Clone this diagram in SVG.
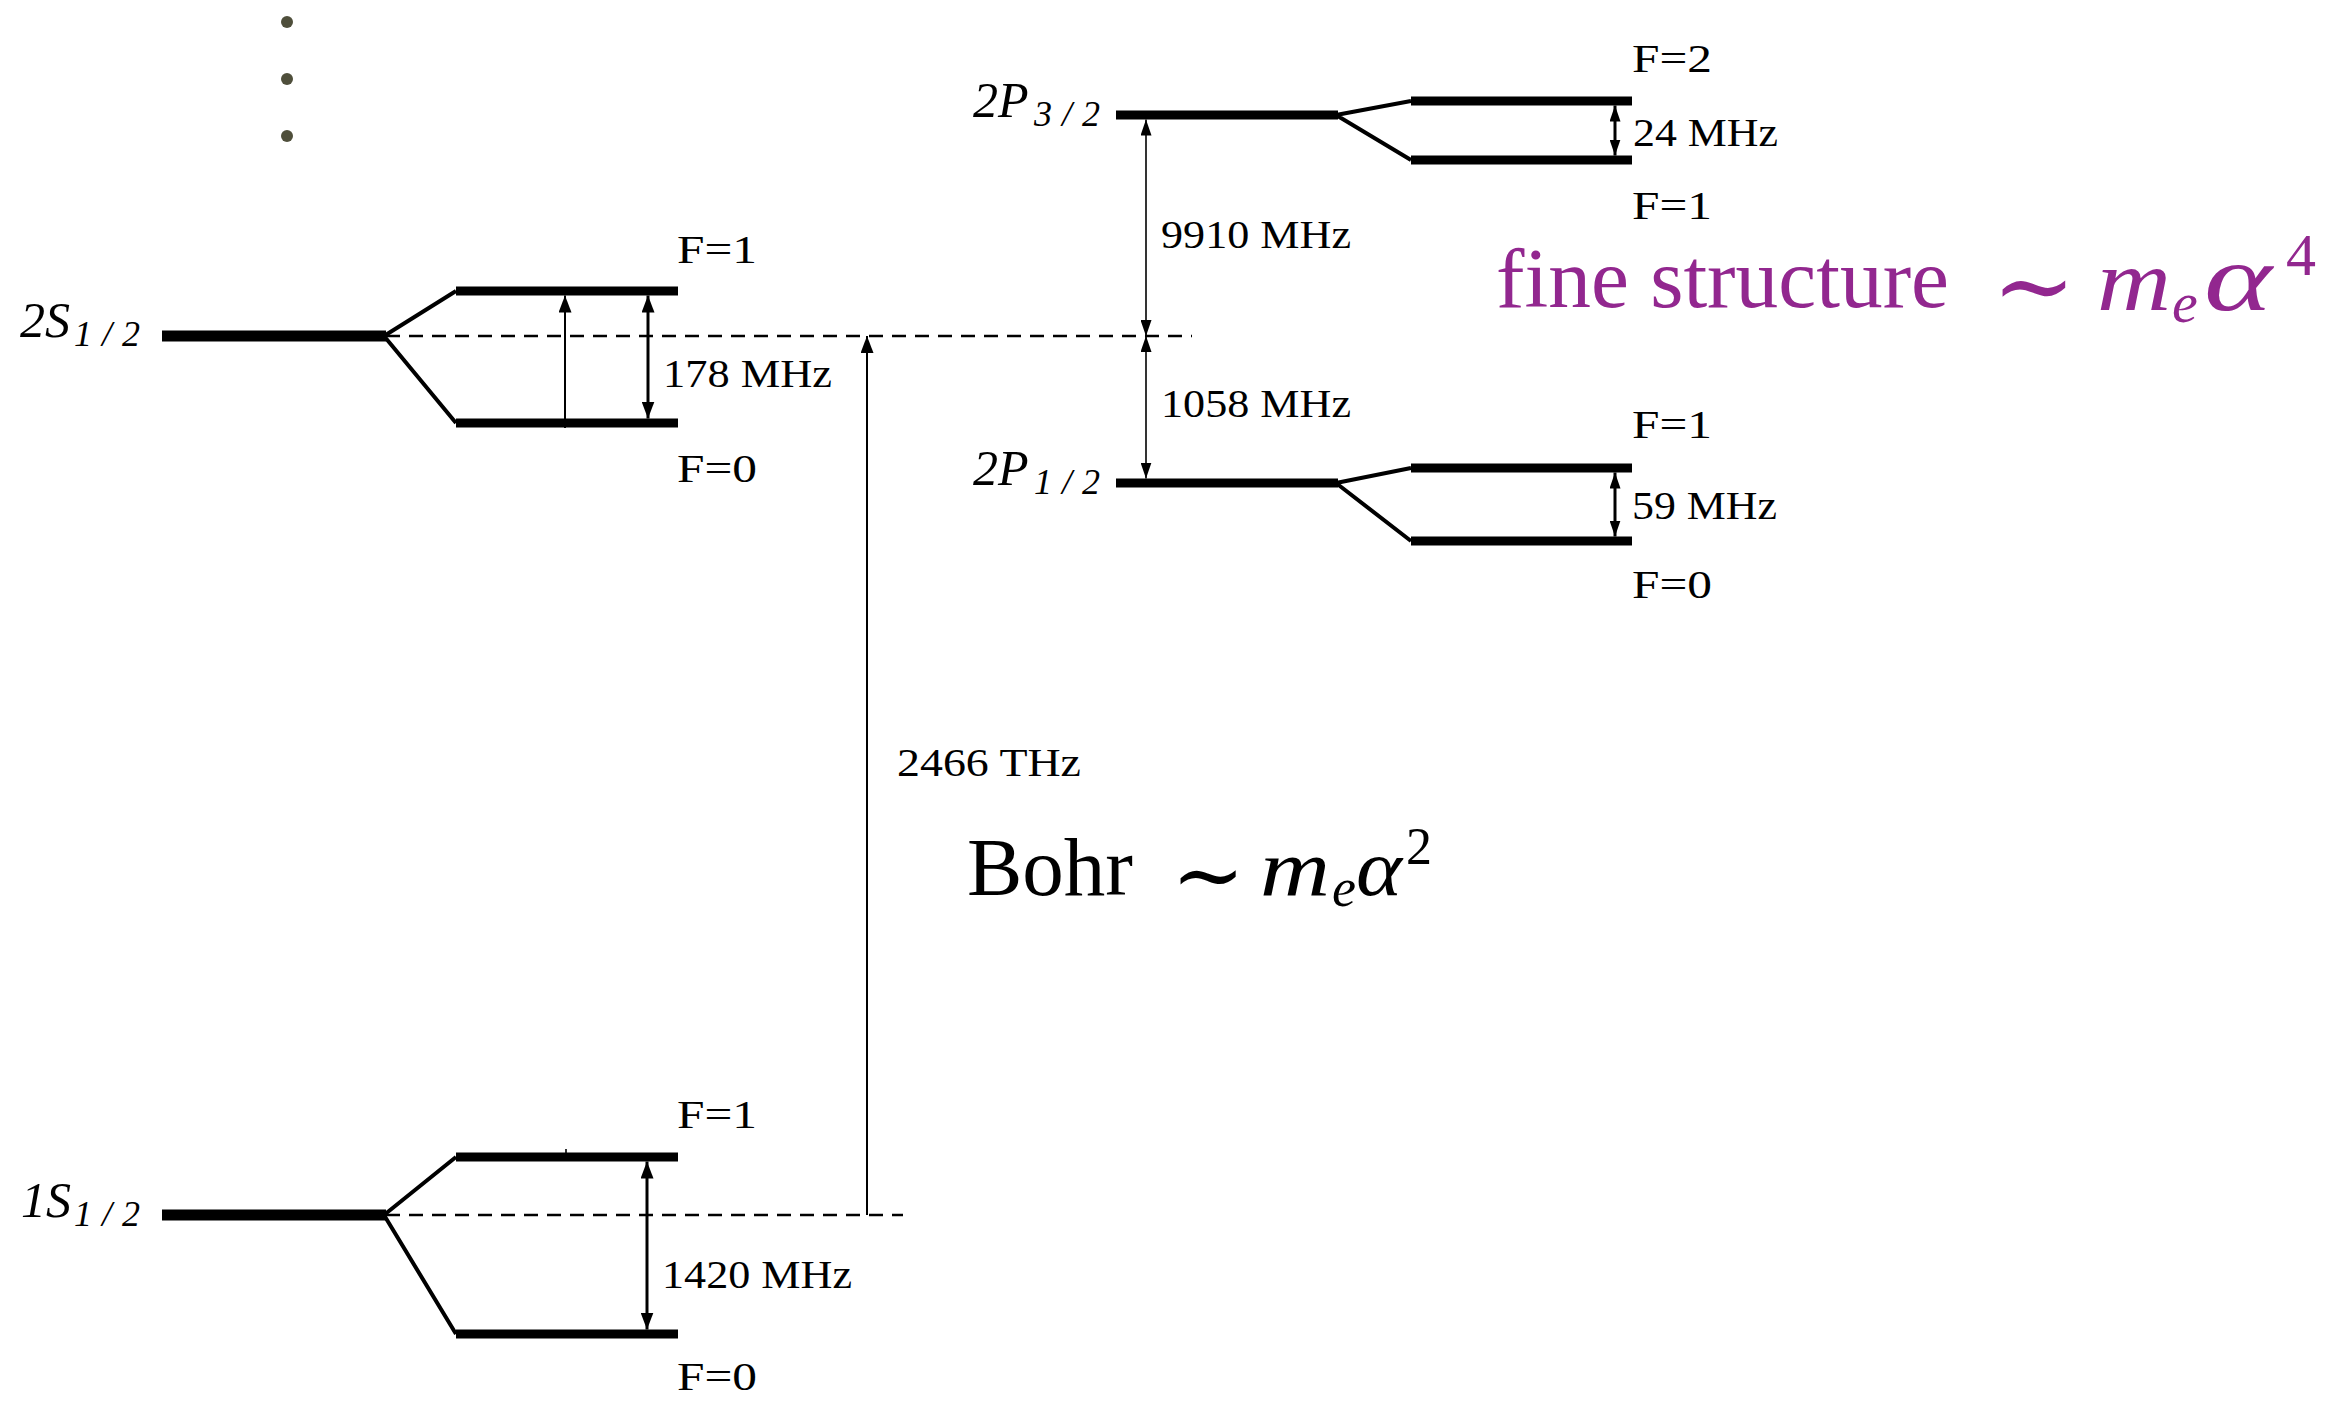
<svg xmlns="http://www.w3.org/2000/svg" width="2345" height="1401" viewBox="0 0 2345 1401">
<defs>
<style>
.lvlS{stroke:#000;stroke-width:11;fill:none}
.lvlP{stroke:#000;stroke-width:9;fill:none}
.sub{stroke:#000;stroke-width:9;fill:none}
.split{stroke:#000;stroke-width:4;fill:none;stroke-linejoin:round}
.lbl{font-family:"Liberation Serif",serif;font-size:41px;fill:#000}
.st{font-family:"Liberation Serif",serif;font-style:italic;font-size:50px;fill:#000}
.stsub{font-family:"Liberation Serif",serif;font-style:italic;font-size:36px;letter-spacing:10px;fill:#000}
.dash{stroke:#000;stroke-width:2.4;stroke-dasharray:14 9;fill:none}
.a3{stroke:#000;stroke-width:3;fill:none}
.a2{stroke:#000;stroke-width:2;fill:none}
.a1{stroke:#000;stroke-width:1.6;fill:none}
.big{font-family:"Liberation Serif",serif;font-size:83px}
.mi{font-family:"Liberation Serif",serif;font-style:italic}
.op{font-family:"DejaVu Serif","DejaVu Sans",serif}
.purple{fill:#92278F}
.dot{fill:#4F4F3B}
</style>
<marker id="ah" viewBox="0 0 17 13" refX="17" refY="6.5" markerWidth="17" markerHeight="13" markerUnits="userSpaceOnUse" orient="auto-start-reverse"><path d="M0,0 L17,6.5 L0,13 Z" fill="#000"/></marker>
<marker id="ahs" viewBox="0 0 16 11" refX="16" refY="5.5" markerWidth="16" markerHeight="11" markerUnits="userSpaceOnUse" orient="auto-start-reverse"><path d="M0,0 L16,5.5 L0,11 Z" fill="#000"/></marker>
</defs>
<rect width="2345" height="1401" fill="#fff"/>

<g id="continuation-dots">
<circle class="dot" cx="287" cy="22" r="6"/>
<circle class="dot" cx="287" cy="79" r="6"/>
<circle class="dot" cx="287" cy="136" r="6"/>
</g>

<g id="level-2S">
<line class="lvlS" x1="162" y1="336" x2="386" y2="336"/>
<polyline class="split" points="456,291 384,336 456,423"/>
<line class="sub" x1="456" y1="291" x2="678" y2="291"/>
<line class="sub" x1="456" y1="423" x2="678" y2="423"/>
<text class="st" x="20" y="337">2S</text><text class="stsub" x="74" y="346">1/2</text>
<text class="lbl" x="677" y="263" textLength="80" lengthAdjust="spacingAndGlyphs">F=1</text>
<text class="lbl" x="677" y="482" textLength="80" lengthAdjust="spacingAndGlyphs">F=0</text>
</g>

<g id="level-1S">
<line class="lvlS" x1="162" y1="1215" x2="386" y2="1215"/>
<polyline class="split" points="456,1157 384,1215 456,1334"/>
<line class="sub" x1="456" y1="1157" x2="678" y2="1157"/>
<line class="sub" x1="456" y1="1334" x2="678" y2="1334"/>
<text class="st" x="21" y="1217">1S</text><text class="stsub" x="74" y="1226">1/2</text>
<text class="lbl" x="677" y="1128" textLength="80" lengthAdjust="spacingAndGlyphs">F=1</text>
<text class="lbl" x="677" y="1390" textLength="80" lengthAdjust="spacingAndGlyphs">F=0</text>
</g>

<g id="level-2P32">
<line class="lvlP" x1="1116" y1="115" x2="1338" y2="115"/>
<polyline class="split" points="1411,101 1336,115 1411,160"/>
<line class="sub" x1="1411" y1="101" x2="1632" y2="101"/>
<line class="sub" x1="1411" y1="160" x2="1632" y2="160"/>
<text class="st" x="973" y="117">2P</text><text class="stsub" x="1034" y="126">3/2</text>
<text class="lbl" x="1632" y="72" textLength="80" lengthAdjust="spacingAndGlyphs">F=2</text>
<text class="lbl" x="1632" y="219" textLength="80" lengthAdjust="spacingAndGlyphs">F=1</text>
</g>

<g id="level-2P12">
<line class="lvlP" x1="1116" y1="483" x2="1338" y2="483"/>
<polyline class="split" points="1411,468 1336,483 1411,541"/>
<line class="sub" x1="1411" y1="468" x2="1632" y2="468"/>
<line class="sub" x1="1411" y1="541" x2="1632" y2="541"/>
<text class="st" x="973" y="485">2P</text><text class="stsub" x="1034" y="494">1/2</text>
<text class="lbl" x="1632" y="438" textLength="80" lengthAdjust="spacingAndGlyphs">F=1</text>
<text class="lbl" x="1632" y="598" textLength="80" lengthAdjust="spacingAndGlyphs">F=0</text>
</g>

<g id="connectors">
<path class="dash" d="M386,336 H1192"/>
<path class="dash" d="M386,1215 H903"/>
<path class="a2" d="M867,1215 V336" marker-end="url(#ah)"/>
<path class="a2" d="M565,428 V295.5" marker-end="url(#ah)"/>
<path class="a3" d="M648,295.5 V418.5" marker-start="url(#ah)" marker-end="url(#ah)"/>
<path class="a3" d="M647,1161.5 V1329.5" marker-start="url(#ah)" marker-end="url(#ah)"/>
<path class="a3" d="M1615,105.5 V155.5" marker-start="url(#ahs)" marker-end="url(#ahs)"/>
<path class="a3" d="M1615,472.5 V536.5" marker-start="url(#ahs)" marker-end="url(#ahs)"/>
<path class="a1" d="M1146,119.5 V336" marker-start="url(#ahs)" marker-end="url(#ahs)"/>
<path class="a1" d="M1146,336 V478.5" marker-start="url(#ahs)" marker-end="url(#ahs)"/>
<path class="a1" d="M566,1149 V1157"/>
</g>

<g id="connector-labels">
<text class="lbl" x="663" y="387" textLength="169" lengthAdjust="spacingAndGlyphs">178 MHz</text>
<text class="lbl" x="662" y="1288" textLength="190" lengthAdjust="spacingAndGlyphs">1420 MHz</text>
<text class="lbl" x="1633" y="146" textLength="145" lengthAdjust="spacingAndGlyphs">24 MHz</text>
<text class="lbl" x="1632" y="519" textLength="145" lengthAdjust="spacingAndGlyphs">59 MHz</text>
<text class="lbl" x="1161" y="248" textLength="190" lengthAdjust="spacingAndGlyphs">9910 MHz</text>
<text class="lbl" x="1161" y="417" textLength="190" lengthAdjust="spacingAndGlyphs">1058 MHz</text>
<text class="lbl" x="897" y="776" textLength="184" lengthAdjust="spacingAndGlyphs">2466 THz</text>
</g>

<g id="bohr-label">
<text class="big" x="967" y="895">Bohr</text>
<text class="op" x="1208" y="905" font-size="88" text-anchor="middle">∼</text>
<text class="mi" x="1260" y="895" font-size="80" textLength="70" lengthAdjust="spacingAndGlyphs">m</text>
<text class="mi" x="1332" y="906" font-size="54">e</text>
<text class="mi" x="1356" y="895" font-size="80" textLength="46" lengthAdjust="spacingAndGlyphs">α</text>
<text class="lbl" x="1406" y="864" style="font-size:52px">2</text>
</g>

<g id="fine-structure-label" class="purple">
<text class="big purple" x="1496" y="307" style="font-size:84px" textLength="453" lengthAdjust="spacingAndGlyphs">fine structure</text>
<text class="op purple" x="2034" y="320" font-size="100" text-anchor="middle">∼</text>
<text class="mi purple" x="2097" y="310" font-size="86" textLength="74" lengthAdjust="spacingAndGlyphs">m</text>
<text class="mi purple" x="2172" y="322" font-size="58">e</text>
<text class="mi purple" x="2204" y="310" font-size="96" textLength="68" lengthAdjust="spacingAndGlyphs">α</text>
<text class="purple" x="2286" y="275" style="font-family:'Liberation Serif',serif;font-size:60px">4</text>
</g>
</svg>
